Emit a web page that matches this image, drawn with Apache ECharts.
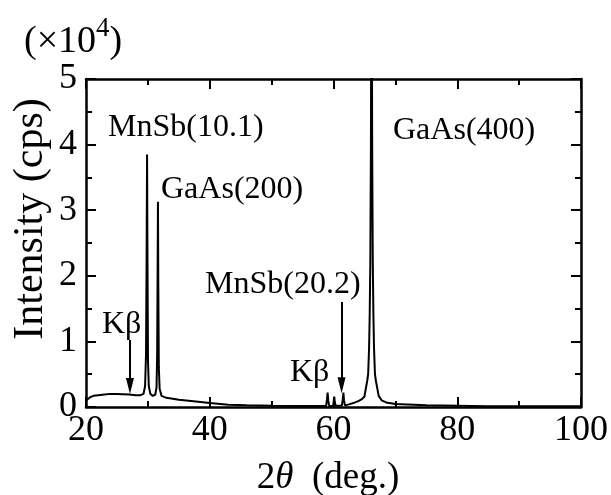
<!DOCTYPE html>
<html><head><meta charset="utf-8">
<script src="https://cdn.jsdelivr.net/npm/echarts@6/dist/echarts.min.js"></script>
<style>html,body{margin:0;padding:0;background:#fff}#c{width:611px;height:495px}</style>
</head><body><div id="c"></div>
<script>
// 2θ (deg.) and intensity (×10^4 cps)
const twoTheta = [20.0,20.3,20.7,21.2,22.0,23.0,24.0,25.0,26.0,27.0,28.0,28.8,29.3,29.55,29.7,29.8,29.87,29.94,30.02,30.15,30.4,30.8,31.2,31.4,31.5,31.57,31.63,31.69,31.77,31.9,32.2,33.0,35.0,37.0,40.0,43.0,46.0,50.0,55.0,58.8,58.95,59.05,59.15,59.3,59.95,60.05,60.12,60.2,60.35,61.35,61.5,61.6,61.7,61.85,62.5,63.2,64.0,64.6,65.0,65.45,65.6,65.75,65.85,65.95,66.05,66.15,66.25,66.35,66.45,66.55,66.7,66.85,67.3,67.8,68.5,70.0,75.0,80.0,85.0,90.0,100.0];
const intensity = [0.10,0.13,0.15,0.17,0.18,0.19,0.20,0.20,0.195,0.19,0.18,0.18,0.20,0.32,0.8,2.4,3.85,2.2,0.7,0.32,0.2,0.17,0.19,0.3,0.8,2.0,3.13,1.8,0.6,0.28,0.17,0.14,0.11,0.09,0.06,0.035,0.025,0.02,0.015,0.015,0.12,0.22,0.1,0.015,0.02,0.1,0.16,0.08,0.02,0.02,0.12,0.22,0.1,0.025,0.04,0.06,0.09,0.12,0.16,0.4,0.5,0.9,1.4,2.2,4.0,8.0,4.0,2.2,1.4,0.9,0.5,0.4,0.17,0.1,0.07,0.045,0.025,0.02,0.01,0.01,0.01];
const xTicks = [20,40,60,80,100];
const yTicks = [0,1,2,3,4,5];
// arrows: x position, start and end intensity
const arrowX = [27.1, 61.3];
const arrowFrom = [1.02, 1.6];
const arrowTo = [0.32, 0.33];

const FONT = 'Liberation Serif';
const chart = echarts.init(document.getElementById('c'), null, {renderer:'canvas'});
const seriesData = twoTheta.map((x,i)=>[x,intensity[i]]);
const axisCommon = {
  type:'value', splitLine:{show:false}, minorSplitLine:{show:false},
  axisLine:{show:true, onZero:false, lineStyle:{color:'#000', width:2.5}},
  axisTick:{show:true, inside:true, length:10, lineStyle:{color:'#000', width:2}},
  minorTick:{show:true, splitNumber:2, length:6, lineStyle:{color:'#000', width:2}}
};
const xCommon = Object.assign({}, axisCommon, {min:xTicks[0], max:xTicks[xTicks.length-1], interval:xTicks[1]-xTicks[0]});
const yCommon = Object.assign({}, axisCommon, {min:yTicks[0], max:yTicks[yTicks.length-1], interval:yTicks[1]-yTicks[0]});
const txt = (text, x, y, size, extra) => Object.assign({type:'text', style:{text, x, y, font: size+'px "'+FONT+'"', fill:'#000', verticalAlign:'middle'}}, extra||{});
chart.setOption({
  animation:false,
  grid:{left:86, right:30, top:79, bottom:88},
  xAxis:[
    Object.assign({}, xCommon, {position:'bottom', axisLabel:{color:'#000', fontSize:36, fontFamily:FONT, margin:6}}),
    Object.assign({}, xCommon, {position:'top', axisLabel:{show:false}})
  ],
  yAxis:[
    Object.assign({}, yCommon, {position:'left', axisLabel:{color:'#000', fontSize:36, fontFamily:FONT, margin:9}}),
    Object.assign({}, yCommon, {position:'right', axisLabel:{show:false}})
  ],
  series:[{
    type:'line', data:seriesData, showSymbol:false, symbol:'none', clip:true,
    lineStyle:{color:'#000', width:2}, xAxisIndex:0, yAxisIndex:0,
    markLine:{
      silent:true, symbol:['none','triangle'], symbolSize:[8,16],
      lineStyle:{color:'#000', width:2, type:'solid'}, label:{show:false},
      data: arrowX.map((x,i)=>[{coord:[x, arrowFrom[i]]},{coord:[x, arrowTo[i]]}])
    }
  }],
  graphic:[
    {type:'text', style:{x:24, y:42, fill:'#000', verticalAlign:'middle',
      rich:{a:{fontSize:38, fontFamily:FONT}, s:{fontSize:27, fontFamily:FONT, verticalAlign:'top', padding:[0,0,26,0]}},
      text:'{a|(×10}{s|4}{a|)}', font:'38px "'+FONT+'"'}},
    txt('MnSb(10.1)', 108, 128, 32),
    txt('GaAs(200)', 161, 190, 32),
    txt('GaAs(400)', 393, 131, 32),
    txt('MnSb(20.2)', 205, 285, 32),
    txt('Kβ', 102, 325, 32),
    txt('Kβ', 290, 373, 32),
    {type:'text', rotation:Math.PI/2, x:31, y:219, style:{text:'Intensity (cps)', x:0, y:0, align:'center', verticalAlign:'middle', font:'42px "'+FONT+'"', fill:'#000'}},
    {type:'text', style:{x:328, y:478, align:'center', verticalAlign:'middle', fill:'#000',
      rich:{n:{fontSize:37, fontFamily:FONT}, i:{fontSize:37, fontFamily:FONT, fontStyle:'italic'}},
      text:'{n|2}{i|θ}{n|  (deg.)}'}}
  ]
});
</script></body></html>
